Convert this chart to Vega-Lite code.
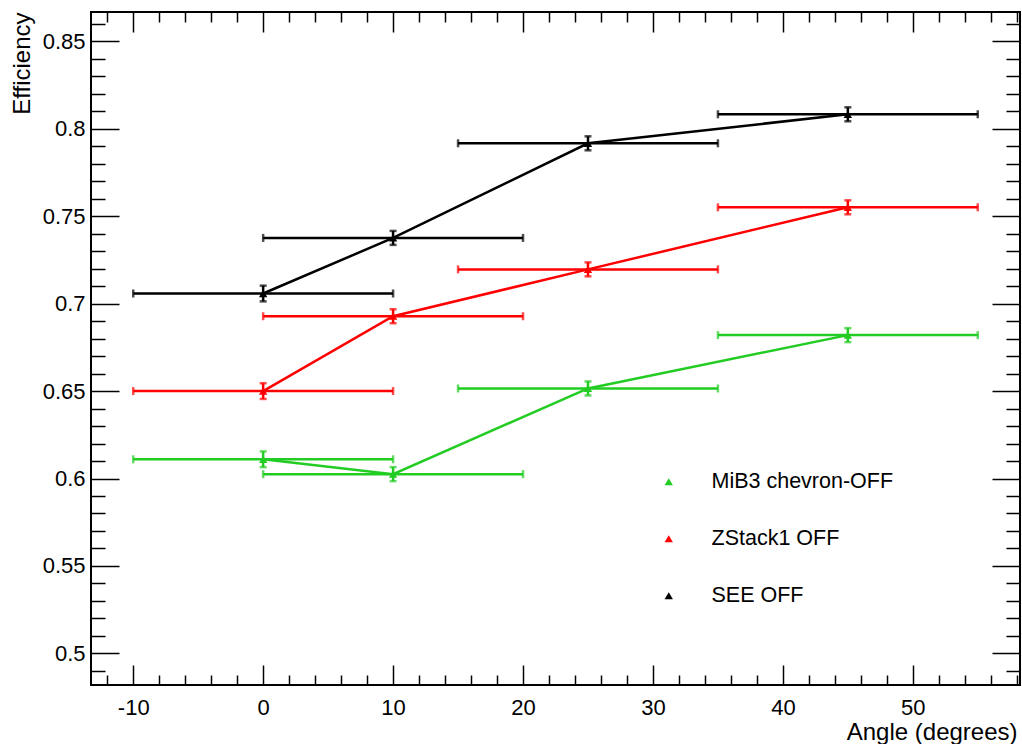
{
  "$schema": "https://vega.github.io/schema/vega-lite/v6.json",
  "width": 929,
  "height": 673,
  "autosize": {"type": "none"},
  "padding": {"left": 91, "top": 12, "right": 2, "bottom": 59},
  "background": "white",
  "config": {
    "font": "Liberation Sans",
    "view": {"stroke": "black", "strokeWidth": 2},
    "axis": {"grid": false, "domain": false, "tickColor": "black", "tickWidth": 1.5, "labelColor": "black", "titleColor": "black", "labelFont": "Liberation Sans", "titleFont": "Liberation Sans", "labelFontSize": 22, "titleFontSize": 24, "titleFontWeight": "normal"}
  },
  "data": {"values": [
    {"series": "MiB3 chevron-OFF", "x": 0, "y": 0.611, "xlo": -10, "xhi": 10, "ylo": 0.6065, "yhi": 0.6155},
    {"series": "MiB3 chevron-OFF", "x": 10, "y": 0.6025, "xlo": 0, "xhi": 20, "ylo": 0.5985, "yhi": 0.6065},
    {"series": "MiB3 chevron-OFF", "x": 25, "y": 0.6515, "xlo": 15, "xhi": 35, "ylo": 0.6475, "yhi": 0.6555},
    {"series": "MiB3 chevron-OFF", "x": 45, "y": 0.682, "xlo": 35, "xhi": 55, "ylo": 0.678, "yhi": 0.686},
    {"series": "ZStack1 OFF", "x": 0, "y": 0.65, "xlo": -10, "xhi": 10, "ylo": 0.6455, "yhi": 0.6545},
    {"series": "ZStack1 OFF", "x": 10, "y": 0.6928, "xlo": 0, "xhi": 20, "ylo": 0.6888, "yhi": 0.6968},
    {"series": "ZStack1 OFF", "x": 25, "y": 0.7196, "xlo": 15, "xhi": 35, "ylo": 0.7156, "yhi": 0.7236},
    {"series": "ZStack1 OFF", "x": 45, "y": 0.7551, "xlo": 35, "xhi": 55, "ylo": 0.7511, "yhi": 0.7591},
    {"series": "SEE OFF", "x": 0, "y": 0.7058, "xlo": -10, "xhi": 10, "ylo": 0.7013, "yhi": 0.7103},
    {"series": "SEE OFF", "x": 10, "y": 0.7376, "xlo": 0, "xhi": 20, "ylo": 0.7336, "yhi": 0.7416},
    {"series": "SEE OFF", "x": 25, "y": 0.7917, "xlo": 15, "xhi": 35, "ylo": 0.7877, "yhi": 0.7957},
    {"series": "SEE OFF", "x": 45, "y": 0.8083, "xlo": 35, "xhi": 55, "ylo": 0.8043, "yhi": 0.8123}
  ]},
  "resolve": {"axis": {"x": "independent", "y": "independent"}, "legend": {"color": "independent"}},
  "layer": [
    {
      "mark": {"type": "line", "strokeWidth": 2.5},
      "encoding": {
        "x": {"field": "x", "type": "quantitative", "scale": {"domain": [-13.25, 58.25], "nice": false, "zero": false},
              "axis": {"orient": "bottom", "values": [-10, 0, 10, 20, 30, 40, 50], "tickSize": -20, "labelPadding": 32, "labelExpr": "toString(datum.value)", "title": "Angle (degrees)", "titleAnchor": "end", "titleAlign": "right", "titleX": 926, "titleY": 47, "titleBaseline": "middle"}},
        "y": {"field": "y", "type": "quantitative", "scale": {"domain": [0.4819, 0.8668], "nice": false, "zero": false},
              "axis": {"orient": "left", "values": [0.5, 0.55, 0.6, 0.65, 0.7, 0.75, 0.8, 0.85], "tickSize": -28, "labelPadding": 34, "format": ".2~f", "title": "Efficiency", "titleAngle": 270, "titleAlign": "right", "titleBaseline": "middle", "titleX": -69, "titleY": 0}},
        "color": {"field": "series", "type": "nominal", "legend": null,
                  "scale": {"domain": ["MiB3 chevron-OFF", "ZStack1 OFF", "SEE OFF"], "range": ["#22cc22", "#ff0000", "#000000"]}},
        "detail": {"field": "series"}
      }
    },
    {
      "mark": {"type": "rule", "strokeWidth": 2.5},
      "encoding": {
        "x": {"field": "xlo", "type": "quantitative", "axis": {"orient": "bottom", "values": [-12, -8, -6, -4, -2, 2, 4, 6, 8, 12, 14, 16, 18, 22, 24, 26, 28, 32, 34, 36, 38, 42, 44, 46, 48, 52, 54, 56, 58], "tickSize": -10, "labels": false, "title": null}},
        "x2": {"field": "xhi"},
        "y": {"field": "y", "type": "quantitative", "axis": {"orient": "left", "values": [0.49, 0.51, 0.52, 0.53, 0.54, 0.56, 0.57, 0.58, 0.59, 0.61, 0.62, 0.63, 0.64, 0.66, 0.67, 0.68, 0.69, 0.71, 0.72, 0.73, 0.74, 0.76, 0.77, 0.78, 0.79, 0.81, 0.82, 0.83, 0.84, 0.86], "tickSize": -14, "labels": false, "title": null}},
        "color": {"field": "series", "type": "nominal", "legend": null}
      }
    },
    {
      "mark": {"type": "rule", "strokeWidth": 2.5},
      "encoding": {
        "x": {"field": "x", "type": "quantitative", "axis": {"orient": "top", "values": [-10, 0, 10, 20, 30, 40, 50], "tickSize": -20, "labels": false, "title": null}},
        "y": {"field": "ylo", "type": "quantitative", "axis": {"orient": "right", "values": [0.5, 0.55, 0.6, 0.65, 0.7, 0.75, 0.8, 0.85], "tickSize": -28, "labels": false, "title": null}},
        "y2": {"field": "yhi"},
        "color": {"field": "series", "type": "nominal", "legend": null}
      }
    },
    {
      "mark": {"type": "point", "shape": "triangle-up", "filled": true, "opacity": 1, "size": 70},
      "encoding": {
        "x": {"field": "x", "type": "quantitative", "axis": {"orient": "top", "values": [-12, -8, -6, -4, -2, 2, 4, 6, 8, 12, 14, 16, 18, 22, 24, 26, 28, 32, 34, 36, 38, 42, 44, 46, 48, 52, 54, 56, 58], "tickSize": -10, "labels": false, "title": null}},
        "y": {"field": "y", "type": "quantitative", "axis": {"orient": "right", "values": [0.49, 0.51, 0.52, 0.53, 0.54, 0.56, 0.57, 0.58, 0.59, 0.61, 0.62, 0.63, 0.64, 0.66, 0.67, 0.68, 0.69, 0.71, 0.72, 0.73, 0.74, 0.76, 0.77, 0.78, 0.79, 0.81, 0.82, 0.83, 0.84, 0.86], "tickSize": -14, "labels": false, "title": null}},
        "color": {"field": "series", "type": "nominal",
                  "legend": {"title": null, "orient": "none", "legendX": 567, "legendY": 459, "symbolType": "triangle-up", "symbolSize": 70, "labelFontSize": 21.5, "labelFont": "Liberation Sans", "labelColor": "black", "labelOffset": 32, "labelLimit": 400, "rowPadding": 34, "symbolStrokeWidth": 0}}
      }
    },
    {
      "mark": {"type": "tick", "orient": "vertical", "size": 8, "thickness": 2.5},
      "encoding": {
        "x": {"field": "xlo", "type": "quantitative", "axis": null},
        "y": {"field": "y", "type": "quantitative", "axis": null},
        "color": {"field": "series", "type": "nominal", "legend": null}
      }
    },
    {
      "mark": {"type": "tick", "orient": "vertical", "size": 8, "thickness": 2.5},
      "encoding": {
        "x": {"field": "xhi", "type": "quantitative", "axis": null},
        "y": {"field": "y", "type": "quantitative", "axis": null},
        "color": {"field": "series", "type": "nominal", "legend": null}
      }
    },
    {
      "mark": {"type": "tick", "orient": "horizontal", "size": 7, "thickness": 2.5},
      "encoding": {
        "x": {"field": "x", "type": "quantitative", "axis": null},
        "y": {"field": "ylo", "type": "quantitative", "axis": null},
        "color": {"field": "series", "type": "nominal", "legend": null}
      }
    },
    {
      "mark": {"type": "tick", "orient": "horizontal", "size": 7, "thickness": 2.5},
      "encoding": {
        "x": {"field": "x", "type": "quantitative", "axis": null},
        "y": {"field": "yhi", "type": "quantitative", "axis": null},
        "color": {"field": "series", "type": "nominal", "legend": null}
      }
    }
  ]
}
